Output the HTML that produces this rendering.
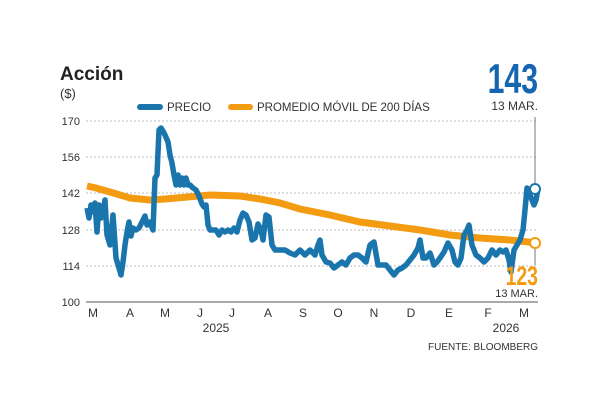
<!DOCTYPE html><html><head><style>
body{margin:0;background:#fff;width:600px;height:400px;overflow:hidden;font-family:"Liberation Sans",sans-serif}
</style></head><body>
<svg width="600" height="400" xmlns="http://www.w3.org/2000/svg" font-family="Liberation Sans, sans-serif">
<text x="60" y="80" font-size="19" font-weight="bold" fill="#222">Acción</text>
<text x="60" y="98" font-size="13" fill="#333">($)</text>
<text x="0" y="0" font-size="42" font-weight="bold" fill="#1565b0" text-anchor="end" transform="translate(538,93) scale(0.72,1)">143</text>
<text x="538" y="110" font-size="12" fill="#333" text-anchor="end">13 MAR.</text>
<line x1="140" y1="107" x2="160" y2="107" stroke="#1a75ad" stroke-width="6" stroke-linecap="round"/>
<text x="167" y="111" font-size="11.5" fill="#333">PRECIO</text>
<line x1="231" y1="107" x2="250" y2="107" stroke="#f39c12" stroke-width="6" stroke-linecap="round"/>
<text x="257" y="111" font-size="11.5" fill="#333">PROMEDIO MÓVIL DE 200 DÍAS</text>
<g stroke="#bbb" stroke-dasharray="2,2" stroke-width="1">
<line x1="86" y1="121" x2="538" y2="121"/><line x1="86" y1="157" x2="538" y2="157"/><line x1="86" y1="193" x2="538" y2="193"/><line x1="86" y1="230" x2="538" y2="230"/><line x1="86" y1="266" x2="538" y2="266"/></g>
<line x1="86" y1="302" x2="538" y2="302" stroke="#555"/>
<line x1="535" y1="117" x2="535" y2="185" stroke="#777"/>
<line x1="535" y1="248" x2="535" y2="265" stroke="#777"/>
<g font-size="11" fill="#333" text-anchor="end">
<text x="80" y="125">170</text><text x="80" y="161">156</text><text x="80" y="197">142</text><text x="80" y="234">128</text><text x="80" y="270">114</text><text x="80" y="306">100</text></g>
<polyline fill="none" stroke="#f39c12" stroke-width="7" points="87,186 96,188 110,192 130,198 150,200 165,199 210,195 240,196 260,199 280,203 300,209 330,215 360,222 390,226 420,230 450,235 480,238 510,240 538,243"/>
<polyline fill="none" stroke="#1a75ad" stroke-width="5.5" stroke-linejoin="round" points="87,208 89,218 91,205 93,212 95,203 97,232 99,205 101,218 103,212 105,200 107,235 110,245 113,215 116,258 119,268 121,275 123,262 125,245 127,232 129,222 131,236 133,228 136,230 139,228 142,222 145,216 147,225 150,222 153,230 155,178 157,175 159,130 161,128 163,131 165,135 168,142 170,155 172,163 174,175 176,185 178,175 180,185 182,178 184,185 186,178 188,185 190,185 193,188 196,190 199,196 202,204 204,207 206,205 208,225 210,230 213,230 216,230 219,235 222,230 225,232 228,230 231,232 234,228 237,232 240,220 243,213 246,215 249,222 252,240 255,238 258,224 261,230 263,240 266,215 269,217 272,245 275,250 280,250 285,250 290,253 295,255 300,250 305,255 310,250 315,255 318,245 320,240 322,255 326,262 330,263 334,268 338,265 342,262 346,265 350,258 354,255 358,255 362,258 366,262 370,245 374,242 378,265 382,265 386,265 390,270 394,275 398,270 402,268 406,265 410,260 414,255 418,248 420,240 423,258 426,258 430,253 434,265 437,262 440,258 444,252 448,243 452,250 455,262 458,265 461,258 464,235 467,230 469,225 472,245 476,255 480,258 484,262 488,258 492,250 496,255 500,250 503,252 506,250 509,260 511,272 514,250 517,245 520,240 523,230 525,210 527,188 530,195 532,200 534,205 536,200 538,189"/>
<circle cx="535" cy="189" r="5" fill="#fff" stroke="#1a75ad" stroke-width="2"/>
<circle cx="535" cy="243" r="5" fill="#fff" stroke="#f39c12" stroke-width="2"/>
<text x="0" y="0" font-size="27" font-weight="bold" fill="#f39c12" text-anchor="end" transform="translate(538,285) scale(0.72,1)">123</text>
<text x="538" y="297" font-size="11" fill="#333" text-anchor="end">13 MAR.</text>
<g font-size="12" fill="#333" text-anchor="middle">
<text x="93" y="317">M</text><text x="130" y="317">A</text><text x="165" y="317">M</text><text x="200" y="317">J</text><text x="232" y="317">J</text><text x="268" y="317">A</text><text x="303" y="317">S</text><text x="338" y="317">O</text><text x="374" y="317">N</text><text x="411" y="317">D</text><text x="449" y="317">E</text><text x="488" y="317">F</text><text x="524" y="317">M</text>
<text x="216" y="332">2025</text><text x="506" y="332">2026</text></g>
<text x="538" y="350" font-size="10" fill="#333" text-anchor="end">FUENTE: BLOOMBERG</text>
</svg></body></html>
